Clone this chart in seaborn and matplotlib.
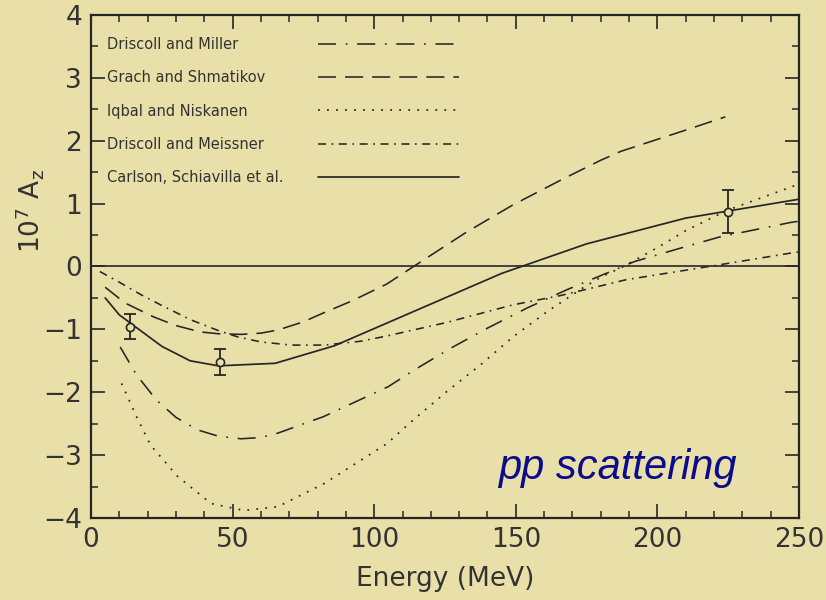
import matplotlib
matplotlib.use("Agg")
import matplotlib.pyplot as plt
import seaborn as sns
from matplotlib.lines import Line2D
from matplotlib.ticker import MultipleLocator
from matplotlib.font_manager import FontProperties

# ---------------- data ----------------
labels = ["Driscoll and Miller", "Grach and Shmatikov", "Iqbal and Niskanen",
          "Driscoll and Meissner", "Carlson, Schiavilla et al."]

dm_x = [10.3, 16, 23, 30, 37.7, 45, 53, 60, 66, 82, 105, 114, 127, 140, 154, 168, 192, 208, 222, 247, 250]
dm_y = [-1.28, -1.72, -2.12, -2.40, -2.60, -2.70, -2.74, -2.72, -2.65, -2.39, -1.91, -1.65, -1.30,
        -0.98, -0.66, -0.37, 0.08, 0.29, 0.47, 0.70, 0.72]

gs_x = [5, 12, 22, 30, 38.5, 45, 53, 60, 66, 75, 82, 92, 104.4, 115.6, 132.7, 149, 167, 180, 187, 208, 224]
gs_y = [-0.33, -0.58, -0.80, -0.94, -1.04, -1.07, -1.08, -1.06, -1.01, -0.88, -0.74, -0.55, -0.28,
        0.05, 0.55, 0.98, 1.40, 1.69, 1.83, 2.14, 2.38]

iq_x = [10.8, 16, 21, 30.6, 42.4, 54, 66, 82.4, 104.4, 113.8, 125.6, 137.4, 149, 161, 173, 180, 188, 200, 210, 225, 250]
iq_y = [-1.86, -2.38, -2.84, -3.34, -3.77, -3.88, -3.82, -3.45, -2.82, -2.44, -1.99, -1.57, -1.12,
        -0.72, -0.36, -0.17, 0.0, 0.30, 0.57, 0.90, 1.31]

me_x = [3.1, 10, 17.7, 25, 35.3, 45, 51.8, 60, 70.6, 82.4, 95, 104, 125.6, 149, 166, 189, 221, 248, 250]
me_y = [-0.08, -0.25, -0.45, -0.62, -0.85, -1.02, -1.12, -1.20, -1.25, -1.25, -1.19, -1.11, -0.89,
        -0.61, -0.46, -0.21, 0.02, 0.22, 0.23]

ca_x = [5, 10, 25, 35, 45, 65, 86, 145, 175, 210, 250]
ca_y = [-0.50, -0.77, -1.27, -1.50, -1.58, -1.54, -1.26, -0.11, 0.36, 0.77, 1.07]

exp_x = [13.8, 45.5, 225]
exp_y = [-0.96, -1.52, 0.87]
exp_err = [0.20, 0.21, 0.34]

x_ticks = [0, 50, 100, 150, 200, 250]
y_ticks = [-4, -3, -2, -1, 0, 1, 2, 3, 4]

# ---------------- style ----------------
BG = "#E9DFA8"
INK = "#262626"
TXT = "#333333"
BLUE = "#0B0B8C"

sns.set_style("ticks", {"axes.facecolor": BG, "figure.facecolor": BG,
                        "axes.edgecolor": INK, "xtick.direction": "in",
                        "ytick.direction": "in"})
plt.rcParams["font.family"] = ["DejaVu Sans"]
plt.rcParams["lines.scale_dashes"] = False
plt.rcParams["axes.unicode_minus"] = True
plt.rcParams["mathtext.fontset"] = "dejavusans"

fig, ax = plt.subplots(figsize=(8.26, 6), dpi=100)
fig.patch.set_facecolor(BG)
ax.set_facecolor(BG)
fig.subplots_adjust(left=0.1102, right=0.9673, bottom=0.1367, top=0.975)

series = [
    (dm_x, dm_y, (0, (13, 7, 1.2, 7)), 1.15),
    (gs_x, gs_y, (0, (13, 6.5)), 1.15),
    (iq_x, iq_y, (0, (1.3, 5.2)), 1.25),
    (me_x, me_y, (0, (5.8, 4, 1.2, 4)), 1.15),
    (ca_x, ca_y, "-", 1.25),
]

handles = []
for (x, y, ls, lw), lab in zip(series, labels):
    n_before = len(ax.lines)
    sns.lineplot(x=x, y=y, ax=ax, color=INK, linewidth=lw, linestyle=ls,
                 sort=False, estimator=None, legend=False)
    handles.append(ax.lines[n_before])

ax.axhline(0, color=INK, linewidth=1.2, zorder=1)

# experimental points
ax.errorbar(exp_x, exp_y, yerr=exp_err, fmt="none", ecolor=INK,
            elinewidth=1.3, capsize=4, capthick=1.3, zorder=4)
sns.scatterplot(x=exp_x, y=exp_y, ax=ax, marker="o", s=34, facecolor=BG,
                edgecolor=INK, linewidth=1.2, zorder=5, legend=False)

# axes
ax.set_xlim(0, 250)
ax.set_ylim(-4, 4)
ax.set_xticks(x_ticks)
ax.set_yticks(y_ticks)
ax.xaxis.set_minor_locator(MultipleLocator(10))
ax.yaxis.set_minor_locator(MultipleLocator(0.5))
ax.tick_params(which="both", direction="in", top=True, right=True, color=INK,
               labelsize=19, pad=6.5, labelcolor=TXT)
ax.tick_params(which="major", length=10, width=1.2)
ax.tick_params(which="minor", length=5, width=1.1)
for s in ax.spines.values():
    s.set_linewidth(1.6)
    s.set_color(INK)

ax.set_xlabel("Energy (MeV)", fontsize=19, color=TXT, labelpad=9)
ax.set_ylabel(r"$\mathregular{10^7\ A_z}$", fontsize=19, color=TXT)
ax.yaxis.set_label_coords(-0.064, 0.61)

# legend: text column and line column
dummy = [Line2D([], [], linestyle="none") for _ in labels]
leg_text = ax.legend(dummy, labels, loc="upper left", bbox_to_anchor=(0.0226, 0.956),
                     frameon=False, fontsize=10.5, handlelength=0, handletextpad=0,
                     borderpad=0, borderaxespad=0, labelspacing=1.25,
                     labelcolor=TXT)
ax.add_artist(leg_text)
leg_lines = ax.legend(handles, [" "] * len(labels), loc="upper left",
                      bbox_to_anchor=(0.3206, 0.956), frameon=False, fontsize=10.5,
                      handlelength=9.7, handletextpad=0, borderpad=0,
                      borderaxespad=0, labelspacing=1.25)

pp_font = FontProperties(family="Liberation Sans", style="italic", size=30)
ax.text(0.744, 0.10, "pp scattering", transform=ax.transAxes, ha="center",
        va="center", fontproperties=pp_font, color=BLUE)

fig.savefig("out.png", dpi=100, facecolor=BG)
